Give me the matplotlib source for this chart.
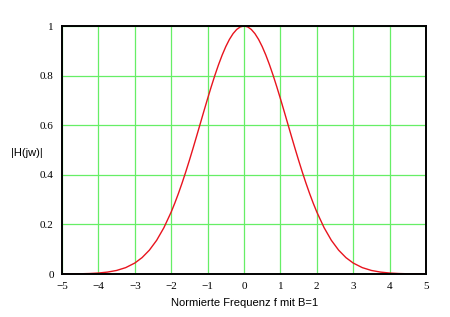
# Betragsfrequenzgang |H(jw)| ueber normierter Frequenz

import matplotlib.pyplot as plt

# Werte
f = [-5, -4.75, -4.5, -4.25, -4, -3.75, -3.5, -3.25, -3, -2.8, -2.6, -2.4, -2.2,
     -2, -1.9, -1.8, -1.7, -1.6, -1.5, -1.4, -1.3, -1.2, -1.1,
     -1, -0.9, -0.8, -0.7, -0.6, -0.5, -0.4, -0.3, -0.2, -0.1, 0,
     0.1, 0.2, 0.3, 0.4, 0.5, 0.6, 0.7, 0.8, 0.9, 1,
     1.1, 1.2, 1.3, 1.4, 1.5, 1.6, 1.7, 1.8, 1.9, 2,
     2.2, 2.4, 2.6, 2.8, 3, 3.25, 3.5, 3.75, 4, 4.25, 4.5, 4.75, 5]
h = [0.0002, 0.0004, 0.0009, 0.0019, 0.0039, 0.0077, 0.0143, 0.0257, 0.0442, 0.0661, 0.0961, 0.1358, 0.1869,
     0.25, 0.2862, 0.3254, 0.3673, 0.4118, 0.4585, 0.5070, 0.5567, 0.6071, 0.6575,
     0.7071, 0.7552, 0.8011, 0.8438, 0.8827, 0.9170, 0.9461, 0.9693, 0.9862, 0.9965, 1.0,
     0.9965, 0.9862, 0.9693, 0.9461, 0.9170, 0.8827, 0.8438, 0.8011, 0.7552, 0.7071,
     0.6575, 0.6071, 0.5567, 0.5070, 0.4585, 0.4118, 0.3673, 0.3254, 0.2862, 0.25,
     0.1869, 0.1358, 0.0961, 0.0661, 0.0442, 0.0257, 0.0143, 0.0077, 0.0039, 0.0019, 0.0009, 0.0004, 0.0002]

xticks = [-5, -4, -3, -2, -1, 0, 1, 2, 3, 4, 5]
yticks = [0, 0.2, 0.4, 0.6, 0.8, 1]
xlabels = ["\u22125", "\u22124", "\u22123", "\u22122", "\u22121", "0", "1", "2", "3", "4", "5"]
ylabels = ["0", "0.2", "0.4", "0.6", "0.8", "1"]

fig = plt.figure(figsize=(4.5, 3.17), dpi=100)
ax = fig.add_axes([62/450, 43/317, 364/450, 248/317])

ax.plot(f, h, color="#e8141e", lw=1.0)

ax.set_xlim(-5, 5)
ax.set_ylim(0, 1)
ax.set_xticks(xticks)
ax.set_yticks(yticks)
ax.set_xticklabels(xlabels, family="Liberation Serif", fontsize=8)
ax.set_yticklabels(ylabels, family="Liberation Serif", fontsize=8)
ax.tick_params(length=0, pad=6)
ax.grid(True, color="#66ee66", lw=0.9)
for s in ax.spines.values():
    s.set_linewidth(1.4)
    s.set_color("black")

fig.text(27/450, 1 - 153/317, "|H(jw)|", family="Liberation Sans", fontsize=8,
         ha="center", va="center")
fig.text(245/450, 1 - 303/317, "Normierte Frequenz f mit B=1", family="Liberation Sans",
         fontsize=8, ha="center", va="center")

fig.savefig("out.png", dpi=100)
